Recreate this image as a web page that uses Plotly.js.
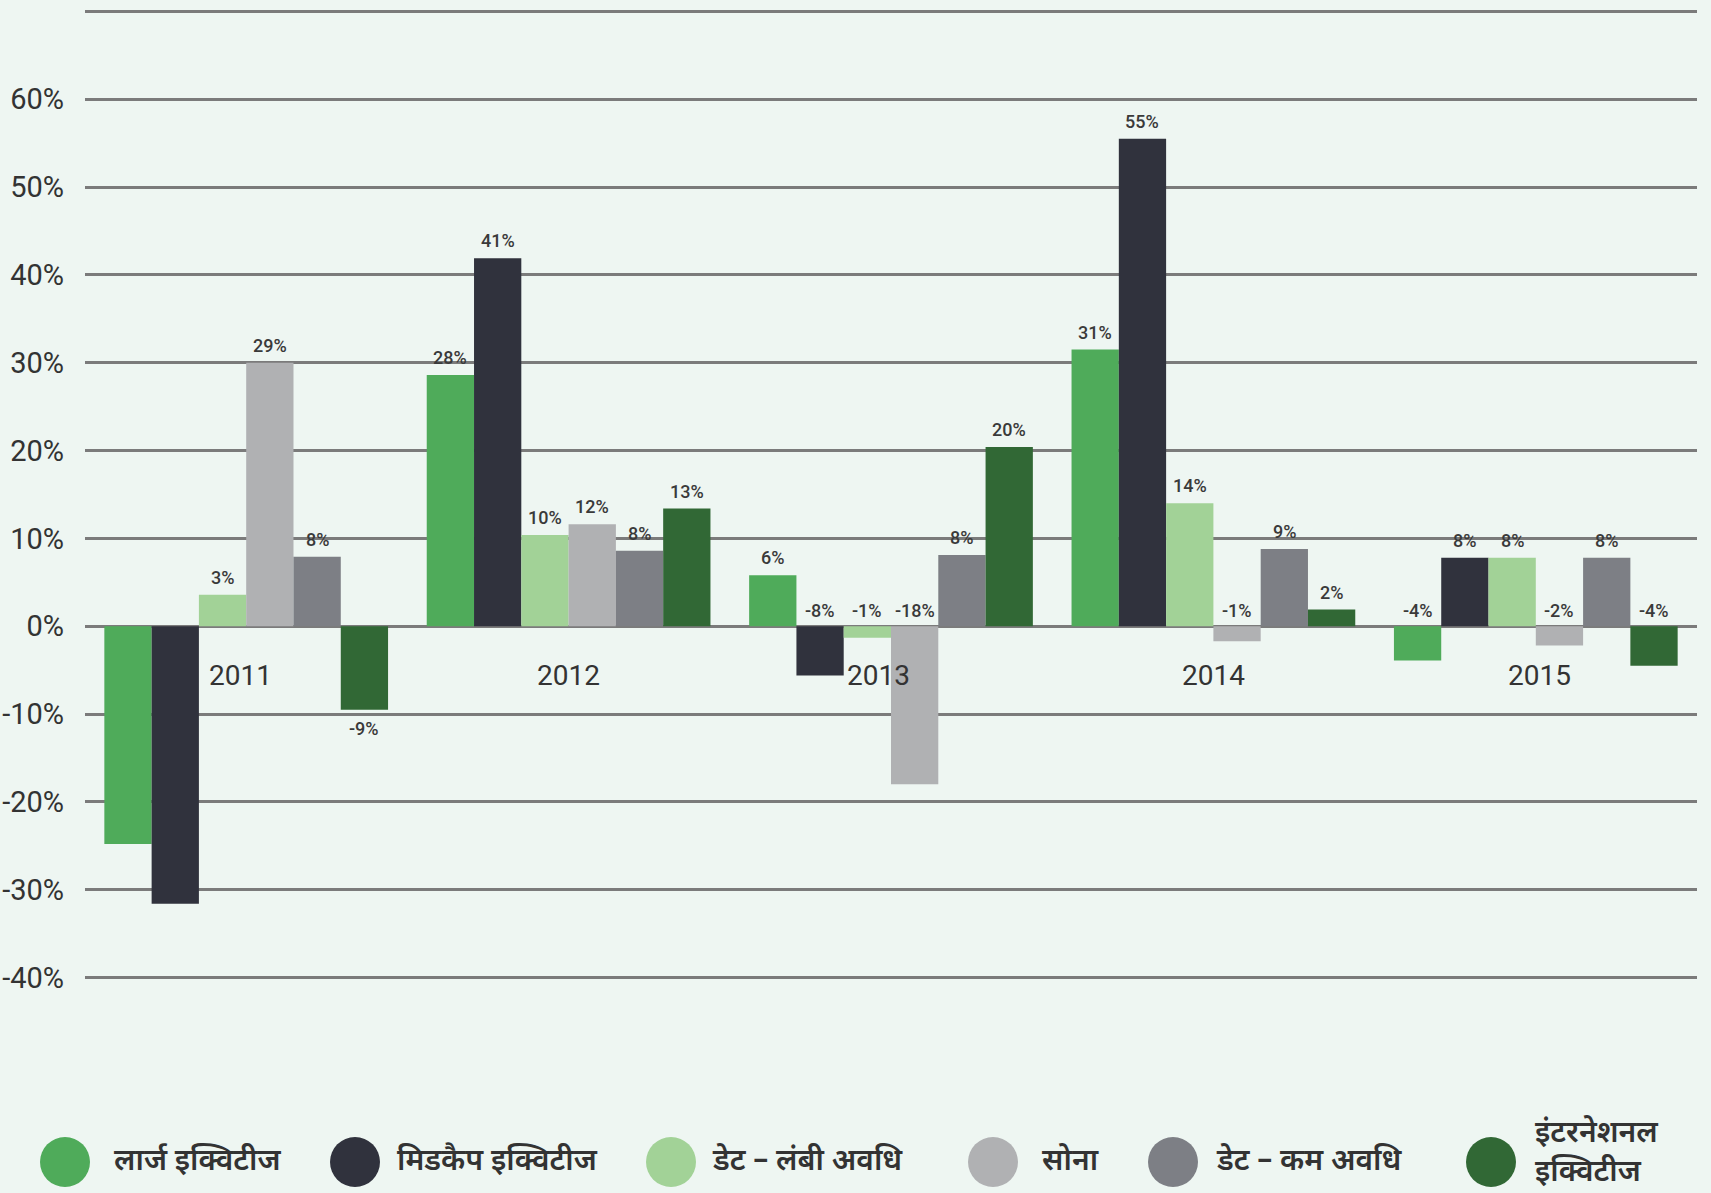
<!DOCTYPE html>
<html>
<head>
<meta charset="utf-8">
<script src="https://cdn.plot.ly/plotly-3.0.1.min.js"></script>
<style>
  html, body { margin: 0; padding: 0; background: #eef6f2; }
  #chart { width: 1711px; height: 1193px; }
</style>
</head>
<body>
<div id="chart"></div>
<script>
// ---- DATA ----
const years = ['2011', '2012', '2013', '2014', '2015'];

const seriesNames = [
  'लार्ज इक्विटीज',
  'मिडकैप इक्विटीज',
  'डेट – लंबी अवधि',
  'सोना',
  'डेट – कम अवधि',
  'इंटरनेशनल इक्विटीज'
];

const largeCap    = [-24.8, 28.6,  5.8, 31.5, -3.9];
const midCap      = [-31.6, 41.9, -5.6, 55.5,  7.8];
const debtLong    = [  3.6, 10.4, -1.3, 14.0,  7.8];
const gold        = [ 30.0, 11.6, -18.0, -1.7, -2.2];
const debtShort   = [  7.9,  8.6,  8.1,  8.8,  7.8];
const intlEquity  = [ -9.5, 13.4, 20.4,  1.9, -4.5];

const largeCapLabels   = [null, '28%', '6%', '31%', '-4%'];
const midCapLabels     = [null, '41%', '-8%', '55%', '8%'];
const debtLongLabels   = ['3%', '10%', '-1%', '14%', '8%'];
const goldLabels       = ['29%', '12%', '-18%', '-1%', '-2%'];
const debtShortLabels  = ['8%', '8%', '8%', '9%', '8%'];
const intlEquityLabels = ['-9%', '13%', '20%', '2%', '-4%'];

const tickValues = [-40, -30, -20, -10, 0, 10, 20, 30, 40, 50, 60, 70];
const tickLabels = ['-40%', '-30%', '-20%', '-10%', '0%', '10%', '20%', '30%', '40%', '50%', '60%', ''];

// ---- STYLE / LAYOUT CONFIG ----
const colors = ['#4fab5a', '#30323d', '#a2d297', '#b0b1b3', '#7d7f85', '#316835'];
const values = [largeCap, midCap, debtLong, gold, debtShort, intlEquity];
const labels = [largeCapLabels, midCapLabels, debtLongLabels, goldLabels, debtShortLabels, intlEquityLabels];
// labels drawn beneath the bar end instead of above the zero line
const labelBelow = { '5|0': true };
// small horizontal nudges (px) of the year captions, as in the original
const yearNudge = [-6, 0, -13, 0, 4];

const W = 1711, H = 1193;
const M = { l: 85, r: 14, t: 7, b: 211 };
const bargap = 0.12;
const plotW = W - M.l - M.r;
const plotH = H - M.t - M.b;
const barW = plotW / years.length * (1 - bargap) / values.length;

const FONT = 'Roboto, "Noto Sans", sans-serif';
const DEVA = '"Noto Sans Devanagari", "Noto Sans", "Lohit Devanagari", "Mukta", sans-serif';

const traces = values.map((v, i) => ({
  type: 'bar',
  name: seriesNames[i],
  x: years,
  y: v,
  marker: { color: colors[i], line: { width: 0 } },
  showlegend: false,
  hoverinfo: 'x+y+name'
}));

const annotations = [];
labels.forEach((arr, i) => {
  arr.forEach((t, j) => {
    if (t === null) return;
    const val = values[i][j];
    const xshift = (i - (values.length - 1) / 2) * barW;
    let y, yanchor, yshift;
    if (val >= 0) { y = val; yanchor = 'bottom'; yshift = 5; }
    else if (labelBelow[i + '|' + j]) { y = val; yanchor = 'top'; yshift = -6; }
    else { y = 0; yanchor = 'bottom'; yshift = 3; }
    annotations.push({
      x: j, y: y, xref: 'x', yref: 'y',
      text: t, showarrow: false, xanchor: 'center', yanchor: yanchor,
      xshift: xshift, yshift: yshift,
      font: { family: FONT, size: 18, color: '#3a3a3a', weight: 500 }
    });
  });
});

// year labels
years.forEach((yr, j) => {
  annotations.push({
    x: j, y: -5.6, xref: 'x', yref: 'y', text: yr, showarrow: false,
    xanchor: 'center', yanchor: 'middle', xshift: yearNudge[j],
    font: { family: FONT, size: 28, color: '#333333' }
  });
});

// custom legend with large circles
const legendCircleX = [65, 355, 671, 993, 1173, 1491];
const legendTextX = [112, 395, 710, 1040, 1214, 1533];
const legendY = 1162;
const shapes = [];
const toPX = px => (px - M.l) / plotW;
const toPY = py => (H - M.b - py) / plotH;
seriesNames.forEach((n, i) => {
  shapes.push({
    type: 'circle', xref: 'paper', yref: 'paper',
    xsizemode: 'pixel', ysizemode: 'pixel',
    xanchor: toPX(legendCircleX[i]), yanchor: toPY(legendY),
    x0: -25, x1: 25, y0: -25, y1: 25,
    fillcolor: colors[i], line: { width: 0 }
  });
  const last = (i === seriesNames.length - 1);
  const txt = last ? n.replace(' ', '<br>') : n;
  annotations.push({
    x: toPX(legendTextX[i]), y: toPY(last ? 1154 : legendY), xref: 'paper', yref: 'paper',
    text: txt, showarrow: false, xanchor: 'left', yanchor: 'middle', align: 'left',
    font: { family: DEVA, size: 30, color: '#333333', weight: 600 }
  });
});

const layout = {
  width: W, height: H,
  margin: M,
  paper_bgcolor: '#eef6f2',
  plot_bgcolor: '#eef6f2',
  barmode: 'group',
  bargap: bargap,
  bargroupgap: 0,
  showlegend: false,
  xaxis: {
    type: 'category', range: [-0.5, years.length - 0.5], autorange: false,
    showticklabels: false, showgrid: false,
    zeroline: false, showline: false, ticks: ''
  },
  yaxis: {
    range: [-40.5, 70.5], autorange: false, tickvals: tickValues, ticktext: tickLabels,
    showgrid: true, gridcolor: '#7b7b7b', gridwidth: 3,
    zeroline: true, zerolinecolor: '#7b7b7b', zerolinewidth: 3,
    showline: false, ticks: '', ticklabelstandoff: 20,
    tickfont: { family: FONT, size: 29, color: '#333333' }
  },
  annotations: annotations,
  shapes: shapes
};

Plotly.newPlot('chart', traces, layout, { displayModeBar: false, staticPlot: true });
</script>
</body>
</html>
